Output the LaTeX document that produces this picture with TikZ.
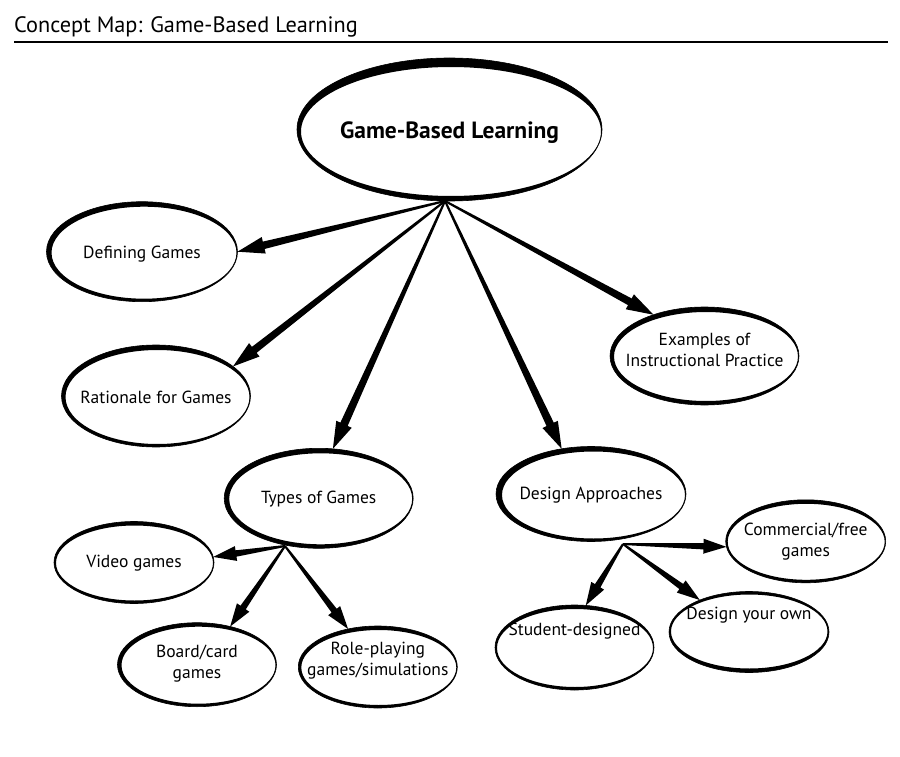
\documentclass[tikz,border=0pt]{standalone}
\usepackage{fontspec}
\setmainfont{PT Sans}
\usetikzlibrary{shapes.geometric,calc}
\tikzset{
  ell/.style={ellipse, draw=none, inner sep=0pt, outer sep=0pt},
  every label/.style={align=center, font=\fontsize{17.5}{21}\selectfont, inner sep=0pt},
}
% #1 node, #2 rx, #3 ry, #4 L, #5 R, #6 T, #7 B thickness
\newcommand\brush[7]{%
  \fill[even odd rule] (#1.center) ellipse [x radius=#2pt, y radius=#3pt]
    ([shift={({(#4-#5)/2},{(#6-#7)/2})}]#1.center)
      ellipse [x radius={(#2-(#4+#5)/2)*1pt}, y radius={(#3-(#6+#7)/2)*1pt}];
  \draw[line width=0.6pt] (#1.center) ellipse [x radius=#2pt, y radius=#3pt];
}
% #1 start, #2 tip, #3 head length, #4 head half width, #5 shaft half width
\newcommand\taper[5]{%
  \path ($(#2)!#3pt!(#1)$) coordinate (hb);
  \fill ($(#1)!1pt!90:(#2)$) -- ($(hb)!#5pt!90:(#2)$) -- ($(hb)!#4pt!90:(#2)$)
     -- (#2) -- ($(hb)!#4pt!-90:(#2)$) -- ($(hb)!#5pt!-90:(#2)$)
     -- ($(#1)!1pt!-90:(#2)$) -- cycle;
}
\begin{document}
\begin{tikzpicture}[x=1pt, y=-1pt]
\fill[white] (0,0) rectangle (900,757);
\useasboundingbox (0,0) rectangle (900,757);

% title
\node[anchor=base west, inner sep=0pt, font=\fontsize{22.3}{26}\selectfont] (title) at (14,33)
  {Concept Map: Game-Based Learning};
\draw[line width=2.5pt] (14,42) -- (888,42);

% nodes
\node[ell, minimum width=305pt, minimum height=143pt,
  label={[font=\fontsize{23.5}{28}\selectfont\bfseries, yshift=-3pt]center:Game-Based Learning}]
  (gbl) at (449.5,129.5) {};
\node[ell, minimum width=191pt, minimum height=100pt, label={[yshift=-2pt]center:Defining Games}]
  (def) at (142,251.7) {};
\node[ell, minimum width=189pt, minimum height=102pt, label={[yshift=-1pt]center:Rationale for Games}]
  (rat) at (156,396) {};
\node[ell, minimum width=189pt, minimum height=100pt, label={[yshift=-1pt]center:Types of Games}]
  (typ) at (318.7,498.3) {};
\node[ell, minimum width=190pt, minimum height=95pt, label={[yshift=-1pt]center:Design Approaches}]
  (dap) at (591,494) {};
\node[ell, minimum width=189pt, minimum height=98pt, label={[yshift=6pt]center:Examples of\\Instructional Practice}]
  (exa) at (704.5,356) {};
\node[ell, minimum width=160pt, minimum height=82pt, label={[yshift=-1pt]center:Video games}]
  (vid) at (134,562.5) {};
\node[ell, minimum width=159pt, minimum height=84pt, label={[yshift=1pt]center:Board/card\\games}]
  (brd) at (197,664.7) {};
\node[ell, minimum width=159pt, minimum height=82pt, label={[yshift=6pt]center:Role-playing\\games/simulations}]
  (rol) at (377.8,667) {};
\node[ell, minimum width=160pt, minimum height=83pt, label={[yshift=0pt]center:Commercial/free\\games}]
  (com) at (805.7,541.3) {};
\node[ell, minimum width=159pt, minimum height=85pt, label={[yshift=16pt]center:Student-designed}]
  (stu) at (574.5,647.5) {};
\node[ell, minimum width=160pt, minimum height=81pt, label={[yshift=17pt]center:Design your own}]
  (own) at (749,632) {};

% ellipse outlines
\brush{gbl}{152.5}{71.5}{4}{1}{9}{5}
\brush{def}{95.5}{50}{5}{1}{5}{3}
\brush{rat}{94.5}{51}{4}{1}{5}{3}
\brush{typ}{94.5}{50}{5}{1}{5}{4}
\brush{dap}{95}{47.5}{6}{1}{5}{3}
\brush{exa}{94.5}{49}{4}{1}{5}{4}
\brush{vid}{80}{41}{2}{1}{4}{3}
\brush{brd}{79.5}{42}{4}{1}{4}{3}
\brush{rol}{79.5}{41}{3}{1}{4}{3}
\brush{com}{80}{41.5}{2}{1}{4}{3}
\brush{stu}{79.5}{42.5}{2}{1}{4}{3}
\brush{own}{80}{40.5}{2}{1.5}{3}{4}

% hubs
\coordinate (hub) at (445,201);
\coordinate (thub) at (285,546);
\coordinate (dhub) at (623,544);

% connectors
\taper{hub}{def.east}{27}{8.5}{3.8}
\taper{hub}{rat.21}{27}{8.5}{3.8}
\taper{hub}{typ.74}{27}{8.5}{4}
\taper{hub}{dap.123}{27}{8.5}{4}
\taper{hub}{exa.141}{27}{8.5}{3.8}
\taper{thub}{vid.4}{23}{7.5}{3.2}
\taper{thub}{brd.49}{23}{7.5}{3.2}
\taper{thub}{rol.128}{23}{7.5}{3.2}
\taper{dhub}{com.184}{23}{7.5}{3.2}
\taper{dhub}{stu.75}{23}{7.5}{3.2}
\taper{dhub}{own.147}{23}{7.5}{3.2}
\end{tikzpicture}
\end{document}
